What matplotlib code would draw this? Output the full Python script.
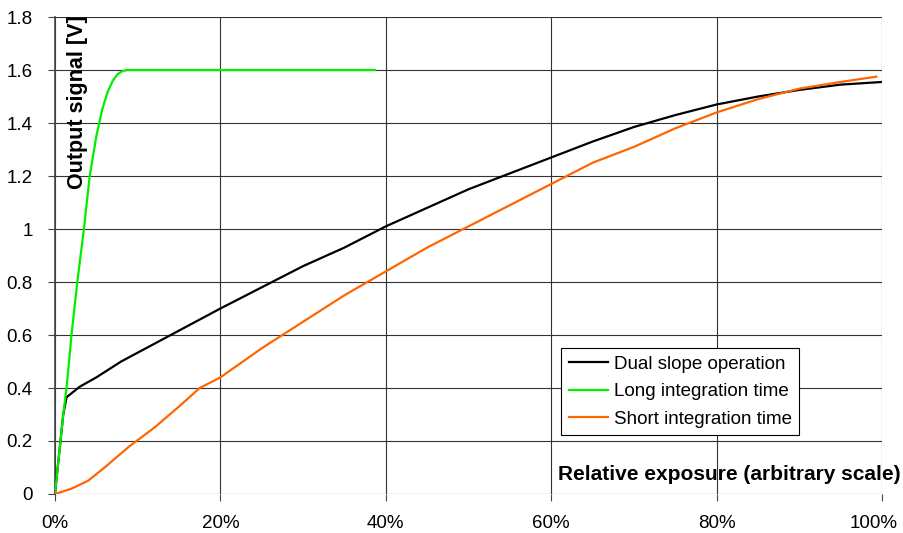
import matplotlib
matplotlib.use('Agg')
import matplotlib.pyplot as plt
from matplotlib.transforms import ScaledTranslation

plt.rcParams['font.family'] = ['Liberation Sans', 'DejaVu Sans']

# exposure in %, signal in V
dual_x = [0, 0.5, 1.0, 1.4, 2.0, 3.0, 5.0, 8.0, 11, 14, 17, 20, 25, 30, 35, 40, 45, 50, 55, 60, 65, 70, 75, 80, 85, 90, 95, 100]
dual_y = [0, 0.15, 0.3, 0.365, 0.38, 0.405, 0.44, 0.50, 0.55, 0.60, 0.65, 0.70, 0.78, 0.86, 0.93, 1.01, 1.08, 1.15, 1.21, 1.27, 1.33, 1.385, 1.43, 1.47, 1.50, 1.525, 1.545, 1.555]

long_x = [0, 0.5, 1.0, 1.4, 2.0, 2.7, 3.5, 4.2, 5.0, 5.7, 6.4, 7.0, 7.6, 8.2, 8.8, 20, 38.7]
long_y = [0, 0.15, 0.3, 0.4, 0.6, 0.8, 1.0, 1.2, 1.35, 1.45, 1.52, 1.56, 1.585, 1.597, 1.6, 1.6, 1.6]

short_x = [0, 2, 4, 6, 9, 12, 15, 17.5, 20, 25, 30, 35, 40, 45, 50, 55, 60, 65, 70, 75, 80, 85, 90, 95, 99.3]
short_y = [0, 0.02, 0.05, 0.10, 0.18, 0.25, 0.33, 0.40, 0.44, 0.55, 0.65, 0.75, 0.84, 0.93, 1.01, 1.09, 1.17, 1.25, 1.31, 1.38, 1.44, 1.49, 1.53, 1.555, 1.575]

x_ticks = [0, 20, 40, 60, 80, 100]
x_labels = ['0%', '20%', '40%', '60%', '80%', '100%']
y_ticks = [0, 0.2, 0.4, 0.6, 0.8, 1.0, 1.2, 1.4, 1.6, 1.8]
y_labels = ['0', '0.2', '0.4', '0.6', '0.8', '1', '1.2', '1.4', '1.6', '1.8']

fig = plt.figure(figsize=(9.04, 5.33), dpi=100)
ax = fig.add_axes([0.0608, 0.0732, 0.9149, 0.8948])

ax.plot(dual_x, dual_y, color='black', lw=1.6, label='Dual slope operation', zorder=3)
ax.plot(long_x, long_y, color='#00ee00', lw=1.6, label='Long integration time', zorder=3)
ax.plot(short_x, short_y, color='#ff6600', lw=1.6, label='Short integration time', zorder=3)

ax.set_xlim(0, 100)
ax.set_ylim(0, 1.8)
ax.set_xticks(x_ticks)
ax.set_xticklabels(x_labels)
ax.set_yticks(y_ticks)
ax.set_yticklabels(y_labels)
ax.tick_params(labelsize=13.5, length=5, width=0.8, color='#444444')
ax.tick_params(axis='y', pad=11)
ax.tick_params(axis='x', pad=10)

# last x label sits a bit to the left, like in the original
last = ax.get_xticklabels()[-1]
last.set_transform(last.get_transform() + ScaledTranslation(-6 / 72, 0, fig.dpi_scale_trans))

ax.grid(True, color='#333333', lw=0.8)
for s in ax.spines.values():
    s.set_visible(False)
ax.spines['left'].set_visible(True)
ax.spines['left'].set_color('#444444')
ax.spines['left'].set_linewidth(1.2)

ax.text(0.027, 1.003, 'Output signal [V]', transform=ax.transAxes, rotation=90,
        ha='center', va='top', fontsize=15.5, fontweight='bold')
ax.text(1.022, 0.02, 'Relative exposure (arbitrary scale)', transform=ax.transAxes,
        ha='right', va='bottom', fontsize=15, fontweight='bold')

leg = ax.legend(loc='lower left', bbox_to_anchor=(0.612, 0.123), fontsize=13.5,
                frameon=True, fancybox=False, edgecolor='black', framealpha=1,
                handlelength=2.1, borderpad=0.4, labelspacing=0.55, handletextpad=0.3,
                borderaxespad=0)
leg.get_frame().set_linewidth(0.8)

plt.savefig('out.png', dpi=100)
